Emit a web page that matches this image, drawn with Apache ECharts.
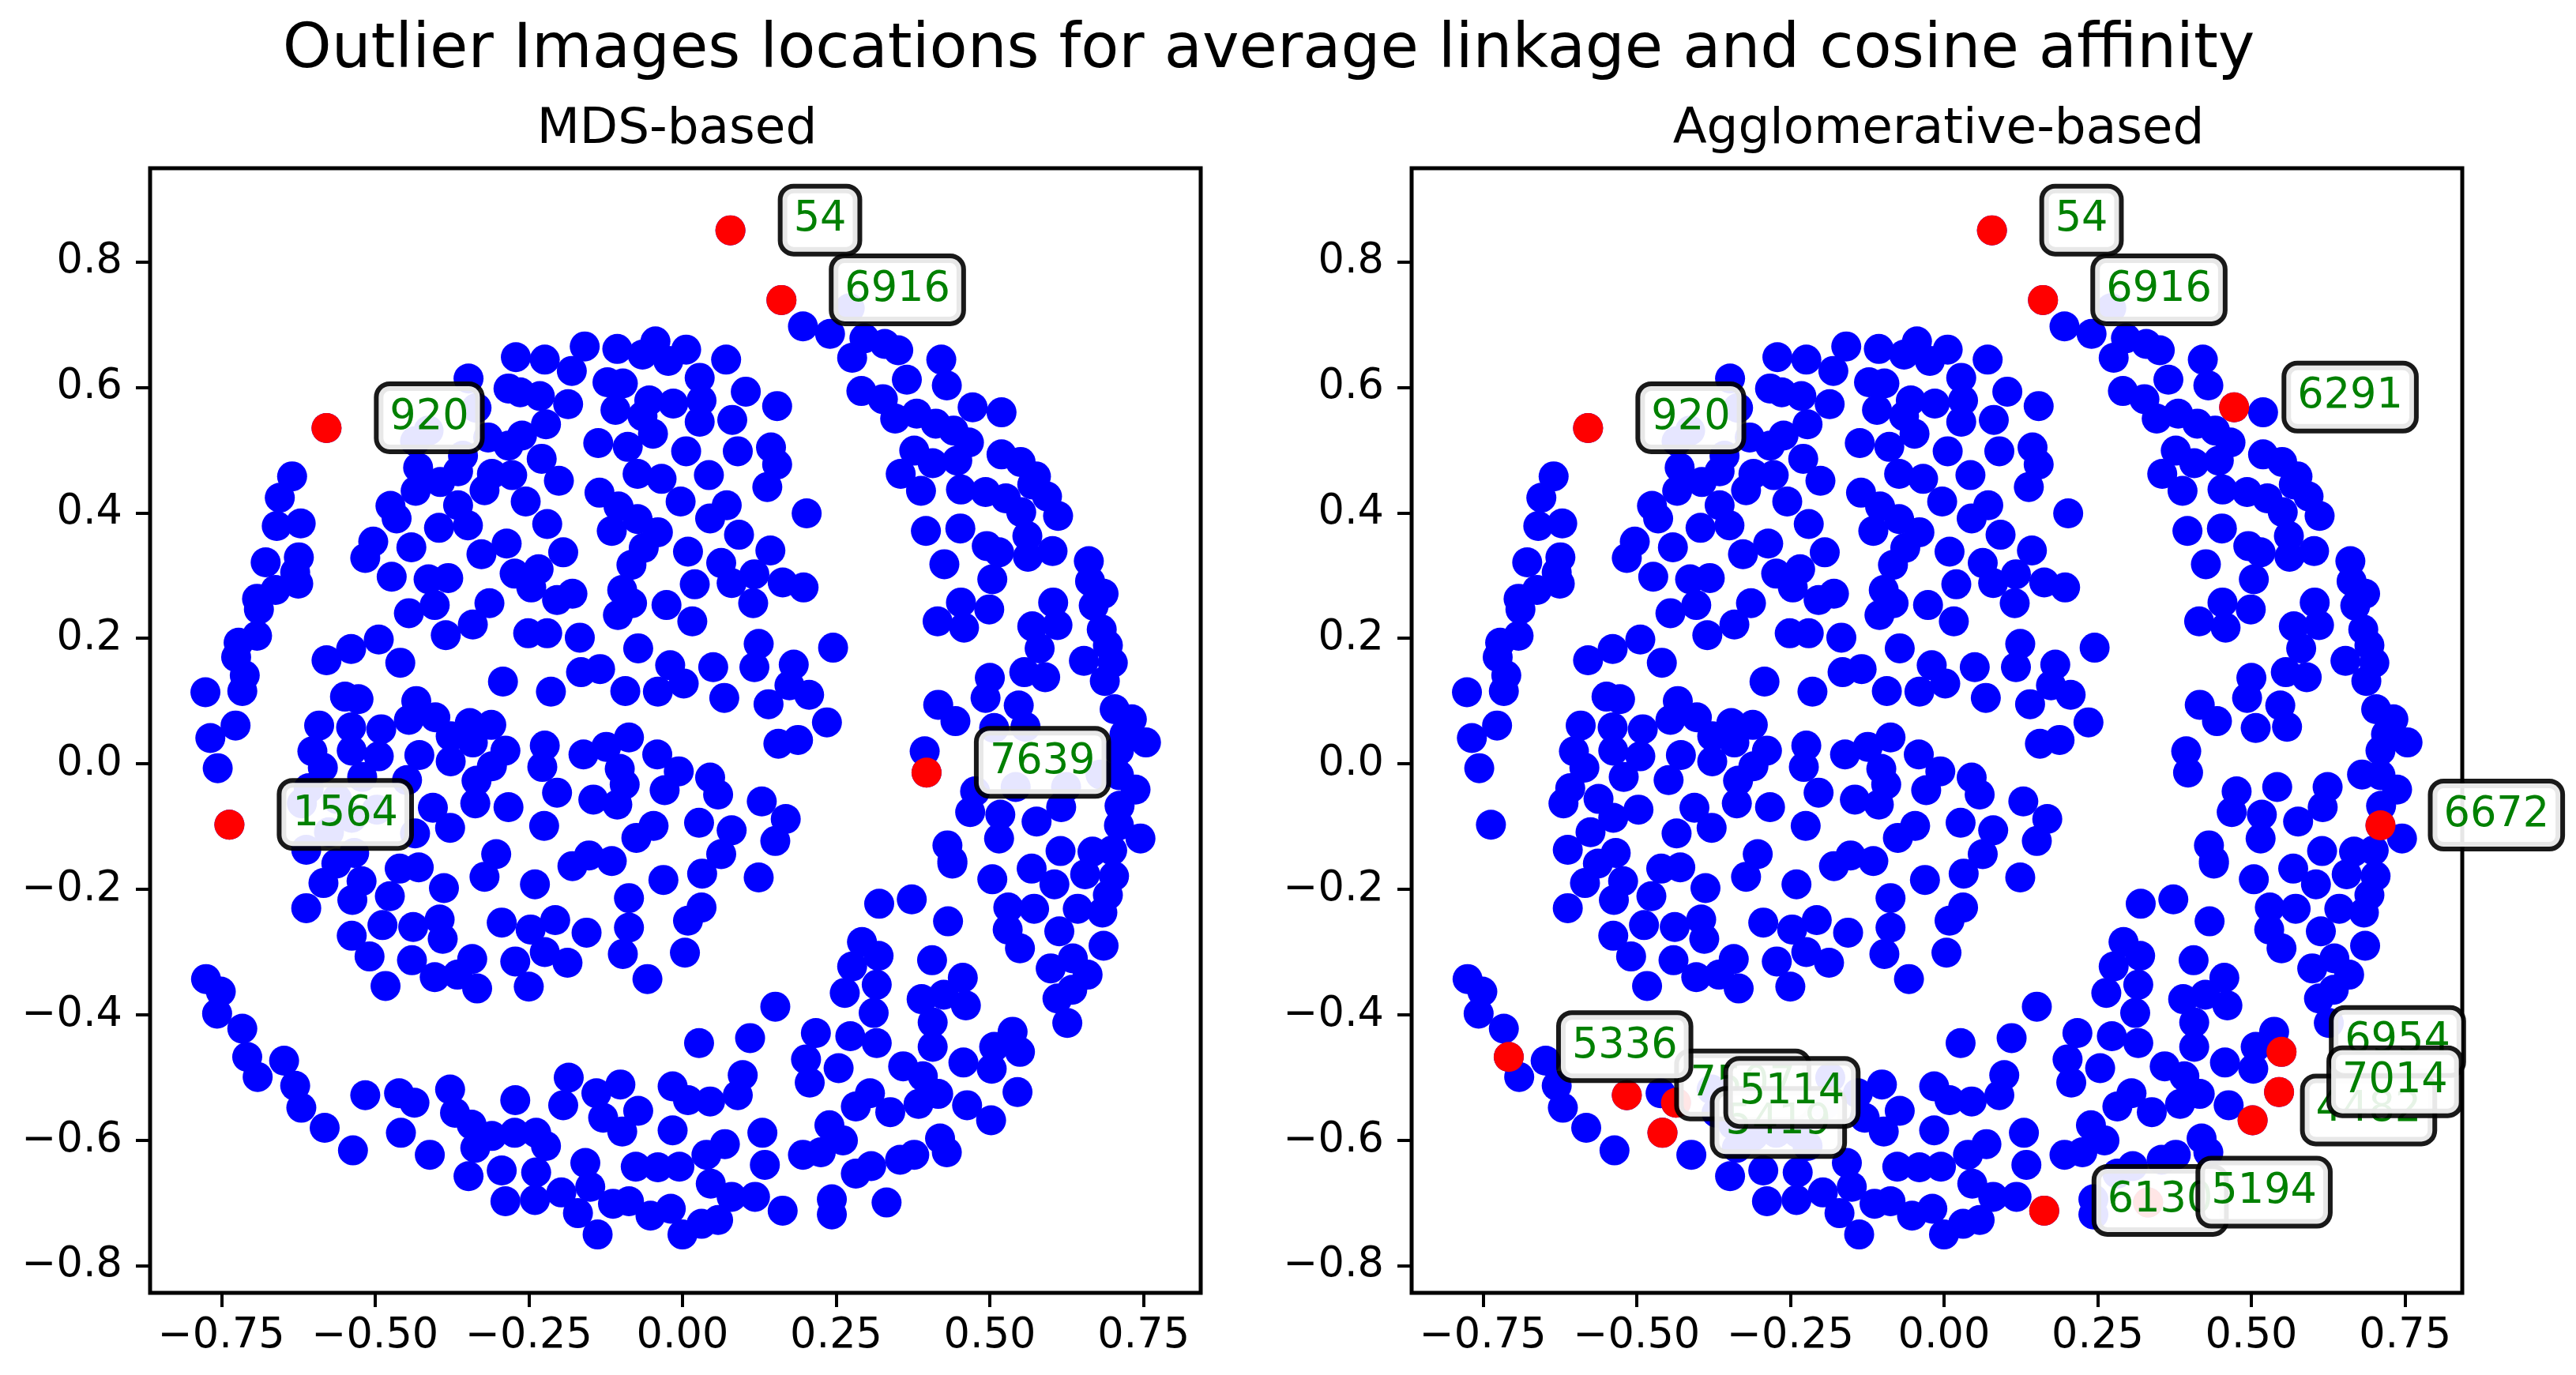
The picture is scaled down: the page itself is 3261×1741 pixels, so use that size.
<!DOCTYPE html>
<html>
<head>
<meta charset="utf-8">
<style>html,body{margin:0;padding:0;background:#fff}#c{width:3261px;height:1741px}</style>
<script src="https://cdn.jsdelivr.net/npm/echarts@6/dist/echarts.min.js"></script>
</head>
<body>
<div id="c"></div>
<script>
const figureTitle = 'Outlier Images locations for average linkage and cosine affinity';
const panelTitles = ['MDS-based', 'Agglomerative-based'];
const xTicks = [-0.75, -0.5, -0.25, 0, 0.25, 0.5, 0.75];
const yTicks = [-0.8, -0.6, -0.4, -0.2, 0, 0.2, 0.4, 0.6, 0.8];

const upperLeftPoints = [[-0.271,0.648],[-0.224,0.644],[-0.159,0.665],[-0.106,0.661],[-0.065,0.652],[-0.044,0.673],[-0.023,0.642],[-0.18,0.626],[-0.348,0.614],[-0.283,0.598],[-0.264,0.592],[-0.232,0.586],[-0.186,0.573],[-0.122,0.608],[-0.097,0.606],[-0.109,0.564],[-0.054,0.579],[-0.015,0.574],[-0.335,0.567],[-0.222,0.541],[-0.065,0.554],[-0.316,0.52],[-0.261,0.523],[-0.283,0.507],[-0.048,0.526],[-0.137,0.511],[-0.089,0.505],[-0.229,0.486],[-0.413,0.531],[-0.435,0.514],[-0.357,0.491],[-0.43,0.472],[-0.31,0.462],[-0.277,0.46],[-0.394,0.449],[-0.365,0.466],[-0.073,0.462],[-0.034,0.454],[-0.201,0.451]];
const upperRightPoints = [[0.196,0.697],[0.24,0.685],[0.296,0.678],[0.329,0.669],[0.351,0.659],[0.276,0.647],[0.272,0.726],[0.006,0.66],[0.071,0.644],[0.028,0.615],[0.103,0.593],[0.031,0.579],[0.154,0.57],[0.081,0.548],[0.028,0.545],[0.291,0.594],[0.326,0.581],[0.365,0.612],[0.421,0.644],[0.43,0.603],[0.472,0.568],[0.519,0.56],[0.346,0.55],[0.381,0.558],[0.412,0.542],[0.441,0.531],[0.466,0.512],[0.519,0.493],[0.55,0.481],[0.377,0.499],[0.407,0.479],[0.447,0.483],[0.006,0.498],[0.09,0.498],[0.144,0.504],[0.154,0.477],[0.043,0.46],[0.355,0.462],[0.575,0.458]];
const leftArcPoints = [[-0.635,0.458],[-0.655,0.424],[-0.66,0.379],[-0.621,0.383],[-0.678,0.321],[-0.624,0.329],[-0.63,0.305],[-0.625,0.287],[-0.662,0.277],[-0.692,0.263],[-0.689,0.246],[-0.692,0.204],[-0.722,0.193],[-0.726,0.17],[-0.712,0.141],[-0.776,0.114],[-0.716,0.116],[-0.727,0.061],[-0.768,0.041],[-0.756,-0.007]];
const midUpperPoints = [[-0.434,0.435],[-0.475,0.411],[-0.465,0.391],[-0.503,0.354],[-0.516,0.328],[-0.441,0.345],[-0.473,0.298],[-0.396,0.376],[-0.365,0.412],[-0.349,0.38],[-0.322,0.436],[-0.255,0.418],[-0.22,0.382],[-0.286,0.351],[-0.327,0.334],[-0.194,0.337],[-0.273,0.303],[-0.234,0.31],[-0.246,0.281],[-0.204,0.261],[-0.179,0.271],[-0.413,0.294],[-0.381,0.296],[-0.403,0.253],[-0.445,0.24],[-0.314,0.256],[-0.341,0.222],[-0.385,0.205],[-0.251,0.208],[-0.22,0.208],[-0.167,0.201],[-0.494,0.198],[-0.539,0.183],[-0.579,0.165],[-0.459,0.161],[-0.292,0.131],[-0.214,0.115],[-0.165,0.146],[-0.134,0.151],[-0.072,0.184],[-0.02,0.157],[-0.093,0.116],[-0.04,0.115],[0.002,0.128],[-0.135,0.432],[-0.104,0.41],[-0.073,0.39],[-0.115,0.371],[-0.04,0.369],[-0.063,0.344],[-0.083,0.317],[-0.098,0.277],[-0.082,0.256],[-0.105,0.237],[-0.026,0.253],[0.016,0.227],[-0.003,0.418],[0.009,0.338],[0.02,0.286]];
const midLowerPoints = [[-0.549,0.107],[-0.527,0.103],[-0.433,0.1],[-0.591,0.061],[-0.539,0.058],[-0.49,0.055],[-0.445,0.07],[-0.402,0.074],[-0.346,0.065],[-0.311,0.062],[-0.377,0.044],[-0.341,0.034],[-0.288,0.021],[-0.602,0.02],[-0.585,-0.006],[-0.538,0.021],[-0.494,0.012],[-0.428,0.014],[-0.377,0.004],[-0.31,-0.004],[-0.224,0.029],[-0.228,-0.005],[-0.161,0.015],[-0.124,0.027],[-0.087,0.042],[-0.041,0.015],[-0.102,-0.008],[-0.094,-0.033],[-0.335,-0.027],[-0.448,-0.026],[-0.521,-0.021],[-0.204,-0.046],[-0.145,-0.057],[-0.106,-0.065],[-0.029,-0.042],[-0.006,-0.012],[-0.337,-0.063],[-0.406,-0.07],[-0.283,-0.069],[-0.378,-0.102],[-0.225,-0.099],[-0.047,-0.099],[-0.075,-0.118],[-0.435,-0.111],[-0.303,-0.144],[-0.152,-0.146],[-0.115,-0.155],[-0.179,-0.163],[-0.46,-0.167],[-0.429,-0.165],[-0.612,-0.137],[-0.534,-0.142],[-0.563,-0.159],[-0.608,-0.039],[-0.619,-0.063],[-0.562,-0.056],[-0.497,-0.073],[-0.538,-0.086],[-0.575,-0.109]];
const lowerLeftPoints = [[-0.612,-0.23],[-0.584,-0.19],[-0.522,-0.187],[-0.537,-0.217],[-0.476,-0.211],[-0.388,-0.198],[-0.322,-0.18],[-0.24,-0.192],[-0.031,-0.185],[-0.087,-0.214],[-0.395,-0.248],[-0.488,-0.257],[-0.438,-0.26],[-0.538,-0.274],[-0.39,-0.279],[-0.509,-0.307],[-0.44,-0.313],[-0.483,-0.354],[-0.403,-0.34],[-0.366,-0.336],[-0.342,-0.311],[-0.334,-0.358],[-0.294,-0.253],[-0.247,-0.264],[-0.207,-0.249],[-0.156,-0.269],[-0.087,-0.261],[-0.097,-0.303],[-0.224,-0.3],[-0.187,-0.317],[-0.272,-0.315],[-0.25,-0.355],[-0.057,-0.343],[0.009,-0.25],[0.004,-0.301]];
const lowerArcPoints = [[-0.775,-0.343],[-0.751,-0.363],[-0.757,-0.398],[-0.716,-0.422],[-0.708,-0.467],[-0.691,-0.499],[-0.648,-0.473],[-0.63,-0.513],[-0.62,-0.548],[-0.582,-0.58],[-0.536,-0.616],[-0.516,-0.528],[-0.461,-0.525],[-0.436,-0.54],[-0.458,-0.588],[-0.411,-0.623],[-0.378,-0.519],[-0.37,-0.556],[-0.343,-0.575],[-0.337,-0.612],[-0.31,-0.593],[-0.273,-0.588],[-0.238,-0.588],[-0.222,-0.609],[-0.348,-0.657],[-0.294,-0.648],[-0.238,-0.651],[-0.288,-0.697],[-0.24,-0.695],[-0.197,-0.683],[-0.158,-0.636],[-0.15,-0.674],[-0.17,-0.716],[-0.138,-0.75],[-0.272,-0.536],[-0.194,-0.544],[-0.185,-0.5],[-0.14,-0.525],[-0.101,-0.511],[-0.072,-0.553],[-0.129,-0.564],[-0.098,-0.586],[-0.016,-0.584],[-0.016,-0.514],[-0.076,-0.642],[-0.04,-0.643],[-0.005,-0.642],[-0.113,-0.701],[-0.087,-0.697],[-0.052,-0.72],[-0.019,-0.709],[0,-0.75]];
const lowerRightPoints = [[0.032,-0.175],[0.124,-0.181],[0.439,-0.159],[0.504,-0.184],[0.568,-0.167],[0.605,-0.192],[0.655,-0.176],[0.702,-0.179],[0.692,-0.209],[0.683,-0.237],[0.53,-0.229],[0.572,-0.231],[0.643,-0.231],[0.613,-0.267],[0.685,-0.29],[0.529,-0.264],[0.549,-0.294],[0.32,-0.223],[0.373,-0.216],[0.432,-0.251],[0.635,-0.31],[0.599,-0.326],[0.659,-0.336],[0.634,-0.36],[0.61,-0.374],[0.626,-0.413],[0.406,-0.313],[0.456,-0.341],[0.292,-0.284],[0.319,-0.306],[0.276,-0.323],[0.316,-0.352],[0.264,-0.365],[0.389,-0.375],[0.425,-0.368],[0.461,-0.385],[0.311,-0.397],[0.407,-0.412],[0.151,-0.387],[0.537,-0.427],[0.507,-0.451],[0.549,-0.459],[0.407,-0.451],[0.217,-0.429],[0.273,-0.434],[0.316,-0.445],[0.027,-0.445],[0.11,-0.437],[0.201,-0.471],[0.254,-0.485],[0.359,-0.482],[0.391,-0.498],[0.457,-0.476],[0.503,-0.486],[0.098,-0.496],[0.207,-0.508],[0.305,-0.525],[0.416,-0.526],[0.282,-0.546],[0.338,-0.555],[0.384,-0.542],[0.463,-0.544],[0.09,-0.528],[0.045,-0.538],[0.009,-0.536],[0.545,-0.523],[0.502,-0.568],[0.239,-0.576],[0.261,-0.6],[0.419,-0.597],[0.43,-0.619],[0.13,-0.588],[0.069,-0.606],[0.039,-0.623],[0.196,-0.623],[0.225,-0.619],[0.307,-0.641],[0.282,-0.653],[0.354,-0.631],[0.377,-0.623],[0.134,-0.639],[0.046,-0.669],[0.08,-0.69],[0.118,-0.69],[0.163,-0.712],[0.243,-0.694],[0.243,-0.718],[0.332,-0.699],[0.031,-0.733],[0.058,-0.727],[0.031,-0.229]];
const rightSidePoints = [[0.388,0.435],[0.453,0.437],[0.493,0.433],[0.526,0.423],[0.551,0.401],[0.569,0.445],[0.593,0.426],[0.611,0.395],[0.396,0.371],[0.452,0.375],[0.495,0.347],[0.515,0.337],[0.561,0.363],[0.562,0.33],[0.602,0.339],[0.426,0.318],[0.661,0.323],[0.663,0.291],[0.504,0.294],[0.685,0.271],[0.453,0.257],[0.499,0.246],[0.603,0.257],[0.415,0.227],[0.458,0.217],[0.669,0.252],[0.569,0.219],[0.61,0.221],[0.682,0.214],[0.692,0.189],[0.581,0.184],[0.653,0.164],[0.7,0.161],[0.556,0.146],[0.59,0.138],[0.5,0.137],[0.687,0.132],[0.493,0.105],[0.547,0.093],[0.416,0.094],[0.444,0.068],[0.703,0.087],[0.731,0.071],[0.507,0.057],[0.558,0.059],[0.719,0.047],[0.754,0.034],[0.71,0.021],[0.394,0.02],[0.68,-0.017],[0.542,-0.037],[0.624,-0.037],[0.476,-0.044],[0.468,-0.077],[0.517,-0.081],[0.616,-0.069],[0.576,-0.092],[0.71,-0.018],[0.737,-0.041],[0.711,-0.067],[0.71,-0.098],[0.745,-0.119],[0.515,-0.119],[0.431,-0.13],[0.439,-0.155],[0.615,-0.139],[0.667,-0.14],[0.699,-0.138]];
const innerRightPoints = [[0.138,0.441],[0.072,0.412],[0.045,0.391],[0.202,0.399],[0.092,0.365],[0.143,0.34],[0.063,0.32],[0.117,0.302],[0.08,0.288],[0.163,0.289],[0.197,0.281],[0.115,0.256],[0.124,0.191],[0.245,0.185],[0.05,0.154],[0.117,0.154],[0.181,0.158],[0.174,0.125],[0.206,0.11],[0.068,0.105],[0.14,0.095],[0.235,0.066],[0.188,0.038],[0.156,0.032],[0.045,-0.022],[0.058,-0.049],[0.129,-0.06],[0.168,-0.088],[0.027,-0.094],[0.08,-0.106],[0.151,-0.123],[0.063,-0.144]];

const outlier54 = { id: '54', at: [0.078, 0.85] };
const outlier6916 = { id: '6916', at: [0.161, 0.739] };
const outlier920 = { id: '920', at: [-0.579, 0.535] };
const mdsOutliers = [outlier54, outlier6916, outlier920,
  { id: '1564', at: [-0.737, -0.097] }, { id: '7639', at: [0.397, -0.014] }];
const agglomerativeOutliers = [outlier54, outlier6916, outlier920,
  { id: '6291', at: [0.472, 0.568] }, { id: '6672', at: [0.71, -0.098] },
  { id: '7507', at: [-0.516, -0.528] }, { id: '5336', at: [-0.708, -0.467] },
  { id: '5419', at: [-0.458, -0.588] }, { id: '5114', at: [-0.436, -0.54] },
  { id: '6130', at: [0.163, -0.712] }, { id: '5194', at: [0.332, -0.699] },
  { id: '4482', at: [0.502, -0.568] }, { id: '6954', at: [0.549, -0.459] },
  { id: '7014', at: [0.545, -0.523] }];

const bluePoints = [].concat(upperLeftPoints, upperRightPoints, leftArcPoints, midUpperPoints, midLowerPoints,
  lowerLeftPoints, lowerArcPoints, lowerRightPoints, rightSidePoints, innerRightPoints,
  mdsOutliers.map(o => o.at));

const FONT = 'DejaVu Sans';
const chart = echarts.init(document.getElementById('c'), null, { renderer: 'canvas' });
const xAxisFor = i => ({
  type: 'value', gridIndex: i, min: -0.866, max: 0.843,
  splitLine: { show: false }, axisLine: { show: false, onZero: false },
  axisTick: { show: true, length: 18, lineStyle: { color: '#000', width: 4 }, customValues: xTicks },
  axisLabel: { show: true, customValues: xTicks, fontFamily: FONT, fontSize: 52.5, color: '#000', margin: 29,
    formatter: v => (v < 0 ? '\u2212' : '') + Math.abs(v).toFixed(2) }
});
const yAxisFor = i => ({
  type: 'value', gridIndex: i, min: -0.843, max: 0.949,
  splitLine: { show: false }, axisLine: { show: false, onZero: false },
  axisTick: { show: true, length: 18, lineStyle: { color: '#000', width: 4 }, customValues: yTicks },
  axisLabel: { show: true, customValues: yTicks, fontFamily: FONT, fontSize: 52.5, color: '#000', margin: 35,
    formatter: v => (v < 0 ? '\u2212' : '') + Math.abs(v).toFixed(1) }
});
const blueSeries = i => ({
  type: 'scatter', xAxisIndex: i, yAxisIndex: i, data: bluePoints, symbol: 'circle', symbolSize: 38,
  itemStyle: { color: '#0000ff', opacity: 1 }, z: 2, silent: true
});
const redSeries = (i, list) => ({
  type: 'scatter', xAxisIndex: i, yAxisIndex: i, symbol: 'circle', symbolSize: 38, z: 3, silent: true,
  itemStyle: { color: '#ff0000', opacity: 1 },
  data: list.map(o => ({ value: o.at, name: o.id })),
  label: {
    show: true, position: [85, 6], align: 'left', verticalAlign: 'middle', formatter: '{b}',
    fontFamily: FONT, fontSize: 52.5, color: '#008000',
    backgroundColor: 'rgba(255,255,255,0.9)', borderColor: 'rgba(0,0,0,0.9)', borderWidth: 6, borderRadius: 14,
    padding: [20, 14, 20, 14], lineHeight: 40
  }
});

chart.setOption({
  animation: false,
  backgroundColor: '#fff',
  title: [
    { text: figureTitle, left: 1601, top: 20, textAlign: 'center', textStyle: { fontFamily: FONT, fontSize: 78.7, fontWeight: 'normal', color: '#000' } },
    { text: panelTitles[0], left: 852, top: 128, textAlign: 'center', textStyle: { fontFamily: FONT, fontSize: 62.8, fontWeight: 'normal', color: '#000' } },
    { text: panelTitles[1], left: 2449, top: 128, textAlign: 'center', textStyle: { fontFamily: FONT, fontSize: 62.8, fontWeight: 'normal', color: '#000' } }
  ],
  grid: [
    { left: 190, top: 213, width: 1330, height: 1424, show: true, borderColor: '#000', borderWidth: 5, backgroundColor: '#fff' },
    { left: 1787, top: 213, width: 1330, height: 1424, show: true, borderColor: '#000', borderWidth: 5, backgroundColor: '#fff' }
  ],
  xAxis: [xAxisFor(0), xAxisFor(1)],
  yAxis: [yAxisFor(0), yAxisFor(1)],
  series: [blueSeries(0), redSeries(0, mdsOutliers), blueSeries(1), redSeries(1, agglomerativeOutliers)]
});
</script>
</body>
</html>
